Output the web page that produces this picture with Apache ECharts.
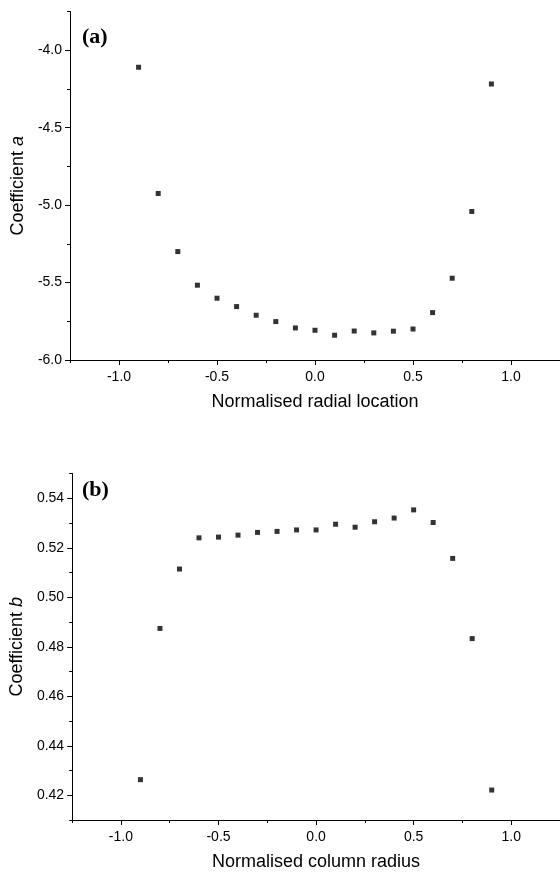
<!DOCTYPE html>
<html>
<head>
<meta charset="utf-8">
<script src="https://cdn.jsdelivr.net/npm/echarts@6/dist/echarts.min.js"></script>
<style>
  html, body { margin: 0; padding: 0; background: #fff; }
  #chart { width: 560px; height: 872px; }
</style>
</head>
<body>
<div id="chart"></div>
<script>
// Radial positions shared by both panels
const radialPositions = [-0.9, -0.8, -0.7, -0.6, -0.5, -0.4, -0.3, -0.2, -0.1, 0.0,
                         0.1, 0.2, 0.3, 0.4, 0.5, 0.6, 0.7, 0.8, 0.9];

// Panel (a): coefficient a
const coeffA = [-4.11, -4.925, -5.30, -5.517, -5.601, -5.655, -5.711, -5.752, -5.793, -5.808,
                -5.840, -5.813, -5.825, -5.814, -5.800, -5.694, -5.472, -5.041, -4.218];

// Panel (b): coefficient b
const coeffB = [0.4263, 0.4874, 0.5114, 0.5240, 0.5243, 0.5251, 0.5262, 0.5266, 0.5272, 0.5272,
                0.5295, 0.5283, 0.5305, 0.5320, 0.5353, 0.5302, 0.5157, 0.4833, 0.4221];

// Tick positions
const xMajorTicks = [-1.0, -0.5, 0.0, 0.5, 1.0];
const xMinorTicks = [-1.25, -0.75, -0.25, 0.25, 0.75, 1.25];
const aMajorTicks = [-6.0, -5.5, -5.0, -4.5, -4.0];
const aMinorTicks = [-5.75, -5.25, -4.75, -4.25, -3.75];
const bMajorTicks = [0.42, 0.44, 0.46, 0.48, 0.50, 0.52, 0.54];
const bMinorTicks = [0.41, 0.43, 0.45, 0.47, 0.49, 0.51, 0.53, 0.55];

const SANS = '"Liberation Sans", Arial, sans-serif';
const SERIF = '"Liberation Serif", "Times New Roman", serif';
const INK = '#000';

function pairs(xs, ys) { return xs.map((x, i) => [x, ys[i]]); }

function majorX(grid, name) {
  return {
    gridIndex: grid, type: 'value', position: 'bottom',
    min: -1.25, max: 1.25,
    axisLine: { show: true, onZero: false, lineStyle: { color: INK, width: 1 } },
    axisTick: { show: true, customValues: xMajorTicks, length: 5, lineStyle: { color: INK } },
    axisLabel: { show: true, customValues: xMajorTicks, formatter: v => v.toFixed(1),
                 fontFamily: SANS, fontSize: 14, color: INK, margin: 10 },
    splitLine: { show: false },
    name: name, nameLocation: 'middle', nameGap: 33,
    nameTextStyle: { fontFamily: SANS, fontSize: 18, color: INK }
  };
}
function minorX(grid) {
  return {
    gridIndex: grid, type: 'value', position: 'bottom',
    min: -1.25, max: 1.25,
    axisLine: { show: false, onZero: false },
    axisTick: { show: true, customValues: xMinorTicks, length: 3, lineStyle: { color: INK } },
    axisLabel: { show: false },
    splitLine: { show: false }
  };
}
function majorY(grid, min, max, ticks, digits, letter) {
  return {
    gridIndex: grid, type: 'value', position: 'left',
    min: min, max: max,
    axisLine: { show: true, onZero: false, lineStyle: { color: INK, width: 1 } },
    axisTick: { show: true, customValues: ticks, length: 5, lineStyle: { color: INK } },
    axisLabel: { show: true, customValues: ticks, formatter: v => v.toFixed(digits),
                 fontFamily: SANS, fontSize: 14, color: INK, margin: 8 },
    splitLine: { show: false },
    name: '{n|Coefficient }{i|' + letter + '}', nameLocation: 'middle', nameGap: 42,
    nameTextStyle: {
      fontFamily: SANS, fontSize: 18, color: INK,
      rich: {
        n: { fontFamily: SANS, fontSize: 18, color: INK },
        i: { fontFamily: SANS, fontSize: 18, color: INK, fontStyle: 'italic' }
      }
    }
  };
}
function minorY(grid, min, max, ticks) {
  return {
    gridIndex: grid, type: 'value', position: 'left',
    min: min, max: max,
    axisLine: { show: false, onZero: false },
    axisTick: { show: true, customValues: ticks, length: 3, lineStyle: { color: INK } },
    axisLabel: { show: false },
    splitLine: { show: false }
  };
}

const chart = echarts.init(document.getElementById('chart'), null, { renderer: 'canvas' });
chart.setOption({
  animation: false,
  backgroundColor: '#fff',
  grid: [
    { left: 70, top: 11.5, width: 496, height: 348.5, containLabel: false },
    { left: 70, top: 473.5, width: 496, height: 348, containLabel: false }
  ],
  xAxis: [
    majorX(0, 'Normalised radial location'),
    minorX(0),
    majorX(1, 'Normalised column radius'),
    minorX(1)
  ],
  yAxis: [
    majorY(0, -6.0, -3.75, aMajorTicks, 1, 'a'),
    minorY(0, -6.0, -3.75, aMinorTicks),
    majorY(1, 0.41, 0.55, bMajorTicks, 2, 'b'),
    minorY(1, 0.41, 0.55, bMinorTicks)
  ],
  graphic: [
    { type: 'text', left: 82, top: 26,
      style: { text: '(a)', font: 'bold 22px ' + SERIF, fill: INK } },
    { type: 'text', left: 82, top: 479,
      style: { text: '(b)', font: 'bold 22px ' + SERIF, fill: INK } }
  ],
  series: [
    {
      type: 'scatter', xAxisIndex: 0, yAxisIndex: 0,
      symbol: 'rect', symbolSize: 5,
      itemStyle: { color: INK },
      data: pairs(radialPositions, coeffA)
    },
    {
      type: 'scatter', xAxisIndex: 2, yAxisIndex: 2,
      symbol: 'rect', symbolSize: 5,
      itemStyle: { color: INK },
      data: pairs(radialPositions, coeffB)
    }
  ]
});
</script>
</body>
</html>
